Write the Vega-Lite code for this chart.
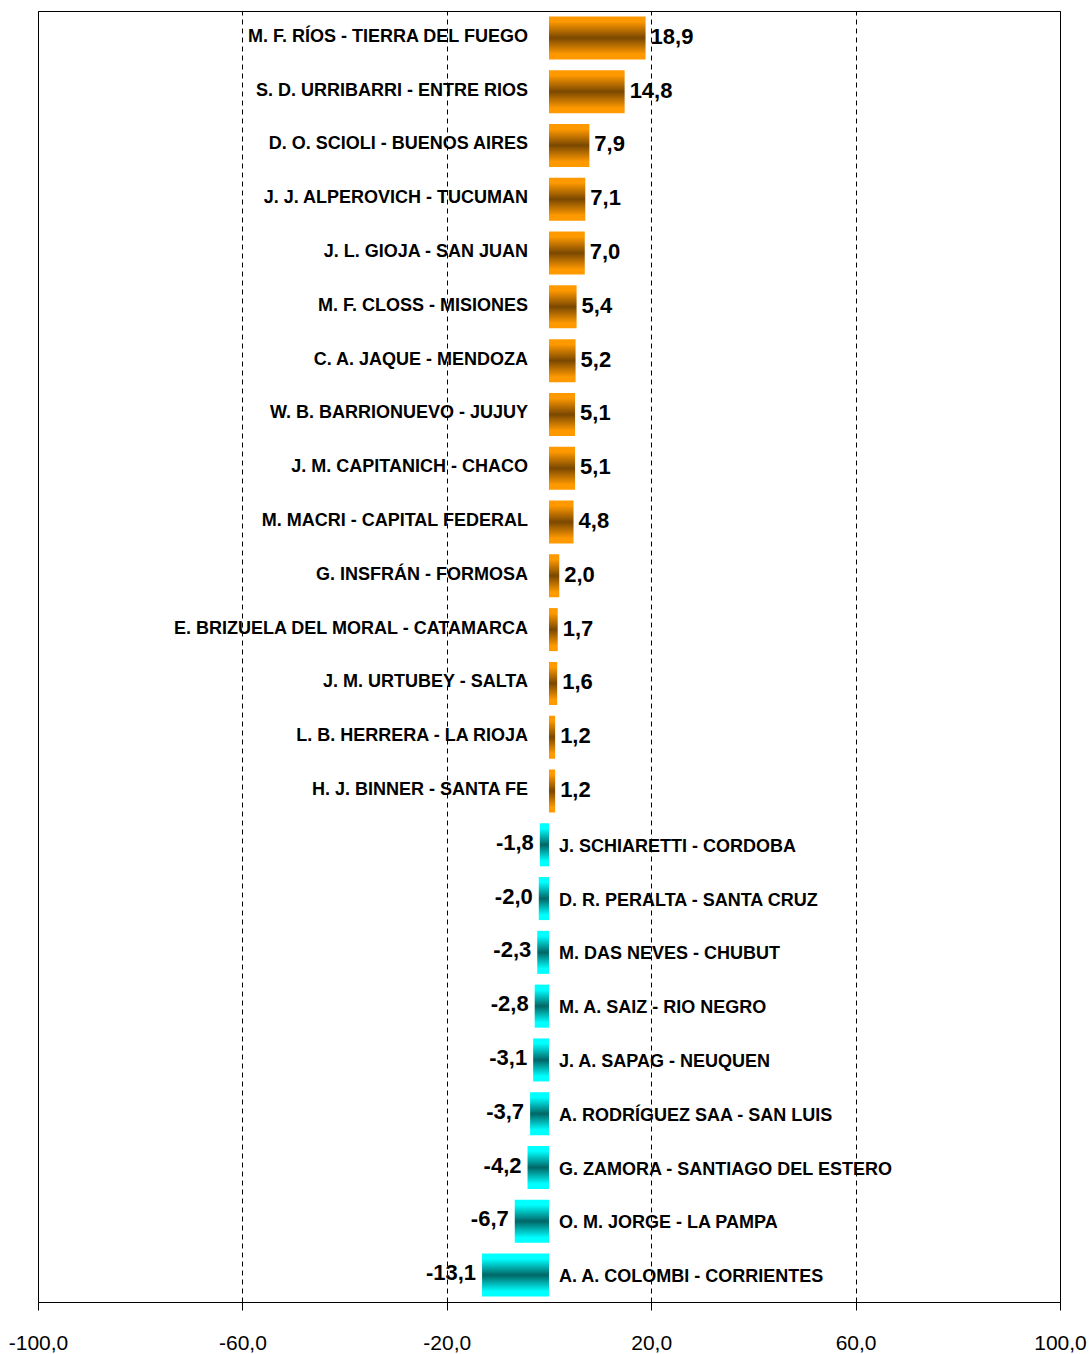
{
  "$schema": "https://vega.github.io/schema/vega-lite/v6.json",
  "width": 1022,
  "height": 1291,
  "autosize": {"type": "none"},
  "padding": {"left": 38, "top": 11, "right": 30, "bottom": 52},
  "background": "#ffffff",
  "config": {
    "locale": {"number": {"decimal": ",", "thousands": ".", "grouping": [3], "currency": ["", "$"], "minus": "-"}},
    "view": {"stroke": "#000000", "strokeWidth": 1},
    "font": "Liberation Sans"
  },
  "data": {
    "values": [
      {"o": 1, "name": "M. F. RÍOS - TIERRA DEL FUEGO", "v": 18.9},
      {"o": 2, "name": "S. D. URRIBARRI - ENTRE RIOS", "v": 14.8},
      {"o": 3, "name": "D. O. SCIOLI - BUENOS AIRES", "v": 7.9},
      {"o": 4, "name": "J. J. ALPEROVICH - TUCUMAN", "v": 7.1},
      {"o": 5, "name": "J. L. GIOJA - SAN JUAN", "v": 7.0},
      {"o": 6, "name": "M. F. CLOSS - MISIONES", "v": 5.4},
      {"o": 7, "name": "C. A. JAQUE - MENDOZA", "v": 5.2},
      {"o": 8, "name": "W. B. BARRIONUEVO - JUJUY", "v": 5.1},
      {"o": 9, "name": "J. M. CAPITANICH - CHACO", "v": 5.1},
      {"o": 10, "name": "M. MACRI - CAPITAL FEDERAL", "v": 4.8},
      {"o": 11, "name": "G. INSFRÁN - FORMOSA", "v": 2.0},
      {"o": 12, "name": "E. BRIZUELA DEL MORAL - CATAMARCA", "v": 1.7},
      {"o": 13, "name": "J. M. URTUBEY - SALTA", "v": 1.6},
      {"o": 14, "name": "L. B. HERRERA - LA RIOJA", "v": 1.2},
      {"o": 15, "name": "H. J. BINNER - SANTA FE", "v": 1.2},
      {"o": 16, "name": "J. SCHIARETTI - CORDOBA", "v": -1.8},
      {"o": 17, "name": "D. R. PERALTA - SANTA CRUZ", "v": -2.0},
      {"o": 18, "name": "M. DAS NEVES - CHUBUT", "v": -2.3},
      {"o": 19, "name": "M. A. SAIZ - RIO NEGRO", "v": -2.8},
      {"o": 20, "name": "J. A. SAPAG - NEUQUEN", "v": -3.1},
      {"o": 21, "name": "A. RODRÍGUEZ SAA - SAN LUIS", "v": -3.7},
      {"o": 22, "name": "G. ZAMORA - SANTIAGO DEL ESTERO", "v": -4.2},
      {"o": 23, "name": "O. M. JORGE - LA PAMPA", "v": -6.7},
      {"o": 24, "name": "A. A. COLOMBI - CORRIENTES", "v": -13.1}
    ]
  },
  "encoding": {
    "y": {"field": "o", "type": "ordinal", "scale": {"paddingInner": 0.2, "paddingOuter": 0.1}, "axis": null},
    "x": {
      "field": "v", "type": "quantitative",
      "scale": {"domain": [-100, 100], "nice": false},
      "axis": {
        "values": [-100, -60, -20, 20, 60, 100], "format": ".1f", "title": null,
        "grid": true, "gridDash": [5, 4], "gridColor": "#000000", "gridOpacity": 1, "gridWidth": 1,
        "domainColor": "#000000", "domainWidth": 1, "tickColor": "#000000", "tickSize": 8, "tickWidth": 1,
        "labelFont": "Liberation Sans", "labelFontSize": 21, "labelColor": "#000000", "labelPadding": 22,
        "labelBound": false, "labelFlush": false, "labelOverlap": false
      }
    }
  },
  "layer": [
    {
      "transform": [{"filter": "datum.v > 0"}],
      "mark": {"type": "bar", "fill": {"gradient": "linear", "x1": 0, "y1": 0, "x2": 0, "y2": 1, "stops": [
        {"offset": 0, "color": "#FF9900"}, {"offset": 0.12, "color": "#FF9900"}, {"offset": 0.5, "color": "#7A4800"},
        {"offset": 0.88, "color": "#FF9900"}, {"offset": 1, "color": "#FF9900"}]}},
      "encoding": {"x2": {"datum": 0}}
    },
    {
      "transform": [{"filter": "datum.v < 0"}],
      "mark": {"type": "bar", "fill": {"gradient": "linear", "x1": 0, "y1": 0, "x2": 0, "y2": 1, "stops": [
        {"offset": 0, "color": "#00FFFF"}, {"offset": 0.12, "color": "#00FFFF"}, {"offset": 0.5, "color": "#006666"},
        {"offset": 0.88, "color": "#00FFFF"}, {"offset": 1, "color": "#00FFFF"}]}},
      "encoding": {"x2": {"datum": 0}}
    },
    {
      "transform": [{"filter": "datum.v > 0"}],
      "mark": {"type": "text", "align": "left", "baseline": "middle", "dx": 5, "dy": -1, "font": "Liberation Sans", "fontWeight": "bold", "fontSize": 22, "color": "#000000"},
      "encoding": {"text": {"field": "v", "type": "quantitative", "format": ".1f"}}
    },
    {
      "transform": [{"filter": "datum.v < 0"}],
      "mark": {"type": "text", "align": "right", "baseline": "middle", "dx": -6, "dy": -2, "font": "Liberation Sans", "fontWeight": "bold", "fontSize": 22, "color": "#000000"},
      "encoding": {"text": {"field": "v", "type": "quantitative", "format": ".1f"}}
    },
    {
      "transform": [{"filter": "datum.v > 0"}],
      "mark": {"type": "text", "align": "right", "baseline": "middle", "dx": -21, "dy": -1, "font": "Liberation Sans", "fontWeight": "bold", "fontSize": 18, "color": "#000000"},
      "encoding": {"x": {"datum": 0}, "text": {"field": "name", "type": "nominal"}}
    },
    {
      "transform": [{"filter": "datum.v < 0"}],
      "mark": {"type": "text", "align": "left", "baseline": "middle", "dx": 10, "dy": 2, "font": "Liberation Sans", "fontWeight": "bold", "fontSize": 18, "color": "#000000"},
      "encoding": {"x": {"datum": 0}, "text": {"field": "name", "type": "nominal"}}
    }
  ]
}
